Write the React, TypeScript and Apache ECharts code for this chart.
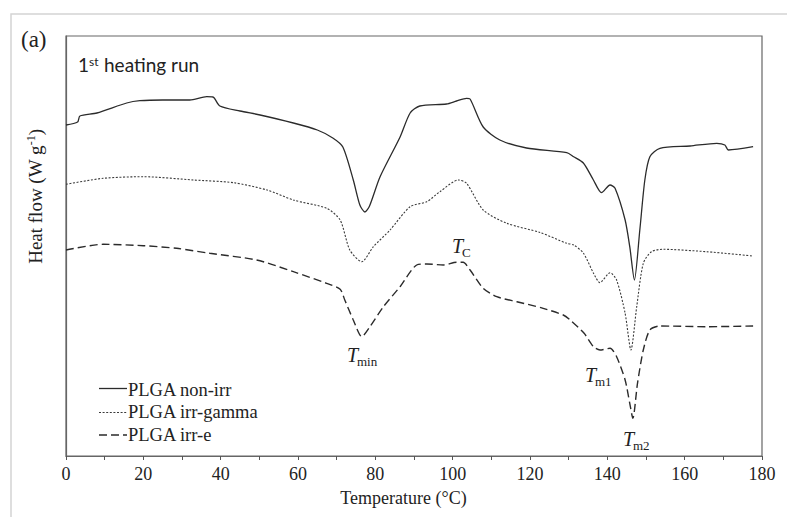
import React, { useEffect, useRef } from "react";
import * as echarts from "echarts";

// Temperature (°C) and heat flow (arbitrary units, W g-1 offset scale)
const nonIrrT = [0, 3, 3.6, 8, 15.7, 19.1, 25, 32, 36.4, 38, 39.8, 45, 50.2, 58.8, 65, 69, 71.6, 74.3, 76, 77.3, 78.5, 81.2, 86.4, 89, 91.5, 98.4, 101, 103.6, 104.5, 107.9, 112.2, 119.1, 129.5, 131.3, 133.8, 136.4, 138.5, 140.7, 142, 144.6, 145.8, 147, 148.4, 149.7, 151, 153.6, 161.4, 168.3, 170.4, 171.3, 177.7];
const nonIrrHF = [331, 334, 340, 343, 353, 355.3, 356, 356, 359.3, 359, 350, 345, 341, 333, 326, 318, 309, 276, 251, 244, 250, 279, 319, 343, 350, 352, 355, 357.7, 357, 329, 316, 308, 303.3, 299.3, 293, 276, 263.3, 271, 267.7, 236, 209.3, 176, 226, 276, 299.3, 307.7, 310, 312.7, 311, 306, 309.3];

const gammaT = [0, 9.6, 20, 33, 43.3, 52, 58.8, 67.4, 70.9, 73.4, 76.5, 79.5, 83.8, 89, 93.3, 96.7, 101.5, 103.6, 107.9, 114, 122.6, 129.5, 131.3, 133.8, 136.4, 138.1, 140.7, 142.4, 144.6, 146.1, 147.6, 149.3, 151.4, 154.4, 165.7, 177.7];
const gammaHF = [271.7, 277.7, 279.3, 276, 273.3, 266, 256, 247.7, 236, 206, 194.3, 209.3, 226, 249.3, 254.3, 264.3, 276, 272.7, 246, 232.7, 223.5, 212.7, 211, 203, 183, 173.3, 183.3, 176, 142.7, 106, 149.3, 192.7, 204.3, 206.7, 204.3, 200];

const eT = [0, 9.6, 20, 28.6, 37.2, 49.3, 58.8, 67.4, 70.9, 72.1, 74.3, 76.5, 78.6, 82.1, 86.4, 90.7, 93.3, 97.6, 101, 102.7, 104.5, 107.9, 111.4, 116.6, 123.4, 128.6, 130.4, 134, 136.4, 138.1, 140.7, 142.4, 144.6, 145.8, 146.6, 147.8, 149.3, 151, 153.6, 165.7, 177.7];
const eHF = [206, 211.7, 210.3, 207.7, 202.7, 196, 184.3, 172.7, 166.7, 156, 136, 119.3, 129.3, 149.3, 169.3, 191, 192, 191, 193.7, 193.7, 186, 167.7, 159.3, 154.3, 147.7, 141, 136, 122.7, 109.3, 106, 107.7, 99.3, 76, 52.7, 37.7, 72.7, 106, 126, 130, 129.3, 130];

const seriesNames = ["PLGA non-irr", "PLGA irr-gamma", "PLGA irr-e"];
const xTickValues = [0, 20, 40, 60, 80, 100, 120, 140, 160, 180];

const zip = (xs: number[], ys: number[]) => xs.map((x, i) => [x, ys[i]]);

const SERIF = "Liberation Serif";
const SANS = "Lato";
const INK = "#222";

export default function App() {
  const ref = useRef<HTMLDivElement>(null);
  useEffect(() => {
    if (!ref.current) return;
    const chart = echarts.init(ref.current, null, { renderer: "svg" });
    const lineStyles: any[] = [
      { color: "#2b2b2b", width: 1.3, type: "solid" },
      { color: "#3a3a3a", width: 1.1, type: [2, 1.6] },
      { color: "#2b2b2b", width: 1.4, type: [8, 4] },
    ];
    const legendLineY = [388.5, 412.5, 435];
    const legendTextY = [390, 412, 434.5];
    const legendGraphics: any[] = [];
    seriesNames.forEach((n, i) => {
      legendGraphics.push({
        type: "line",
        shape: { x1: 99, y1: legendLineY[i], x2: 127, y2: legendLineY[i] },
        style: { stroke: lineStyles[i].color, lineWidth: lineStyles[i].width, lineDash: lineStyles[i].type === "solid" ? null : lineStyles[i].type },
      });
      legendGraphics.push({
        type: "text",
        x: 128,
        y: legendTextY[i],
        style: { text: n, fontFamily: SERIF, fontSize: 18.5, fill: INK, verticalAlign: "middle" },
      });
    });
    // T label: x = left of T, b = baseline of T
    const tLabel = (x: number, b: number, sub: string) => [
      { type: "text", x, y: b - 6.8, style: { text: "T", fontFamily: SERIF, fontStyle: "italic", fontSize: 20, fill: INK, verticalAlign: "middle" } },
      { type: "text", x: x + 10, y: b + 3.5 - 4.4, style: { text: sub, fontFamily: SERIF, fontSize: 13, fill: INK, verticalAlign: "middle" } },
    ];
    chart.setOption({
      animation: false,
      grid: { left: 66, right: 25, top: 36, bottom: 61, show: true, borderColor: "#666", borderWidth: 1.2 },
      xAxis: {
        type: "value",
        min: 0,
        max: 180,
        interval: 10,
        axisLine: { show: true, lineStyle: { color: "#666", width: 1.2 } },
        axisTick: { show: true, length: 4, lineStyle: { color: "#555" } },
        axisLabel: {
          color: INK,
          fontFamily: SERIF,
          fontSize: 18,
          margin: 9,
          formatter: (v: number) => (xTickValues.includes(v) ? String(v) : ""),
        },
        splitLine: { show: false },
      },
      yAxis: {
        type: "value",
        min: 0,
        max: 420,
        axisLine: { show: true, lineStyle: { color: "#666", width: 1.2 } },
        axisTick: { show: false },
        axisLabel: { show: false },
        splitLine: { show: false },
      },
      series: [
        { name: seriesNames[0], type: "line", data: zip(nonIrrT, nonIrrHF), showSymbol: false, smooth: 0.25, lineStyle: lineStyles[0] },
        { name: seriesNames[1], type: "line", data: zip(gammaT, gammaHF), showSymbol: false, smooth: 0.25, lineStyle: lineStyles[1] },
        { name: seriesNames[2], type: "line", data: zip(eT, eHF), showSymbol: false, smooth: 0.25, lineStyle: lineStyles[2] },
      ],
      graphic: [
        { type: "rect", shape: { x: 11, y: 14, width: 800, height: 530 }, style: { fill: "none", stroke: "#d4d4d4", lineWidth: 1.5 }, silent: true },
        { type: "text", x: 21, y: 39, style: { text: "(a)", fontFamily: SERIF, fontSize: 23, fill: INK, verticalAlign: "middle" } },
        { type: "text", x: 78, y: 74, style: { text: "1", fontFamily: SANS, fontSize: 19, fill: INK, verticalAlign: "bottom" } },
        { type: "text", x: 89, y: 67, style: { text: "st", fontFamily: SANS, fontSize: 12, fill: INK, verticalAlign: "bottom" } },
        { type: "text", x: 104, y: 74, style: { text: "heating run", fontFamily: SANS, fontSize: 19, fill: INK, verticalAlign: "bottom" } },
        {
          type: "text",
          x: 35,
          y: 196.5,
          rotation: Math.PI / 2,
          style: {
            text: "{a|Heat flow (W g}{b|-1}{a|)}",
            rich: {
              a: { fontFamily: SERIF, fontSize: 19, fill: INK, lineHeight: 20 },
              b: { fontFamily: SERIF, fontSize: 12, fill: INK, lineHeight: 12, verticalAlign: "top" },
            },
            align: "center",
            verticalAlign: "middle",
          },
        },
        { type: "text", x: 403.5, y: 498, style: { text: "Temperature (°C)", fontFamily: SERIF, fontSize: 18, fill: INK, align: "center", verticalAlign: "middle" } },
        ...tLabel(347, 362, "min"),
        ...tLabel(452, 253, "C"),
        ...tLabel(585, 382, "m1"),
        ...tLabel(623, 446, "m2"),
        ...legendGraphics,
      ],
    });
    return () => chart.dispose();
  }, []);
  return <div ref={ref} style={{ position: "fixed", left: 0, top: 0, width: 787, height: 517, background: "#fff" }} />;
}
